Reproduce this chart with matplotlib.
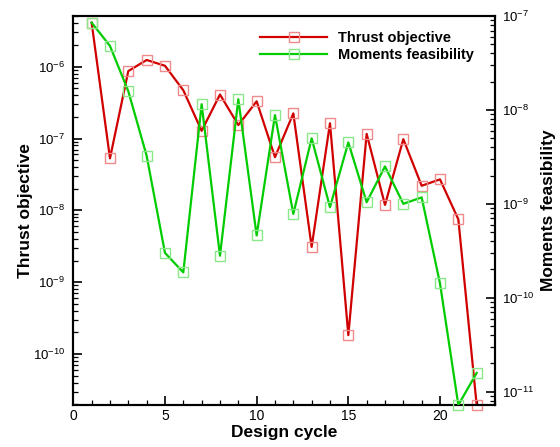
import matplotlib
matplotlib.use("Agg")
import matplotlib.pyplot as plt
from matplotlib.lines import Line2D
from matplotlib.ticker import FixedLocator, MultipleLocator, NullFormatter, LogFormatterSciNotation

plt.rcParams['font.family'] = ['Liberation Sans', 'DejaVu Sans']
plt.rcParams['mathtext.fontset'] = 'custom'
plt.rcParams['mathtext.rm'] = 'Liberation Sans'
plt.rcParams['mathtext.it'] = 'Liberation Sans:italic'
plt.rcParams['mathtext.bf'] = 'Liberation Sans:bold'

cycles = list(range(1, 23))
thrust = [4.1e-6, 5.3e-8, 8.7e-7, 1.24e-6, 1.03e-6, 4.7e-7, 1.28e-7, 4.1e-7,
          1.54e-7, 3.3e-7, 5.5e-8, 2.24e-7, 3.1e-9, 1.63e-7, 1.83e-10, 1.16e-7,
          1.19e-8, 9.8e-8, 2.2e-8, 2.7e-8, 7.5e-9, 1.95e-11]
moments = [8.5e-8, 4.8e-8, 1.58e-8, 3.25e-9, 3.0e-10, 1.86e-10, 1.15e-8, 2.8e-10,
           1.3e-8, 4.6e-10, 8.8e-9, 7.8e-10, 4.98e-9, 9.2e-10, 4.5e-9, 1.04e-9,
           2.5e-9, 1.0e-9, 1.17e-9, 1.42e-10, 7.2e-12, 1.58e-11]
labels = ["Thrust objective", "Moments feasibility"]

red = '#d10000'
red_m = '#f08a8a'
green = '#00cc00'
green_m = '#8ae88a'

fig = plt.figure(figsize=(5.6, 4.47), dpi=100)
ax = fig.add_axes([73.3/560, 1-405/447, (495-73.3)/560, (405-16)/447])
ax2 = ax.twinx()

ax.plot(cycles, thrust, color=red, lw=1.6, zorder=3)
ax.plot(cycles, thrust, ls='none', marker='s', ms=7.5, mfc='none', mec=red_m, mew=1.0, zorder=4, clip_on=False)
ax2.plot(cycles, moments, color=green, lw=1.6, zorder=3)
ax2.plot(cycles, moments, ls='none', marker='s', ms=7.5, mfc='none', mec=green_m, mew=1.0, zorder=4, clip_on=False)

ax.set_xlim(0, 23)
ax.set_yscale('log')
ax.set_ylim(1.95e-11, 5.08e-6)
ax2.set_yscale('log')
ax2.set_ylim(7.2e-12, 1e-7)


def log_ticks(lo, hi):
    major, minor = [], []
    for e in range(-13, -4):
        for m in range(1, 10):
            v = m * 10.0 ** e
            if lo * 0.999 <= v <= hi * 1.001:
                (major if m == 1 else minor).append(v)
    return major, minor


ax.xaxis.set_major_locator(MultipleLocator(5))
ax.xaxis.set_minor_locator(MultipleLocator(1))
for a in (ax, ax2):
    lo, hi = a.get_ylim()
    major, minor = log_ticks(lo, hi)
    a.yaxis.set_major_locator(FixedLocator(major))
    a.yaxis.set_minor_locator(FixedLocator(minor))
    a.yaxis.set_major_formatter(LogFormatterSciNotation())
    a.yaxis.set_minor_formatter(NullFormatter())
    for s in a.spines.values():
        s.set_linewidth(1.5)

ax.tick_params(axis='x', which='major', direction='in', length=6.5, width=1.2, labelsize=10, pad=3, top=False)
ax.tick_params(axis='x', which='minor', direction='in', length=3.5, width=0.9, top=False)
ax.tick_params(axis='y', which='major', direction='in', length=6.5, width=1.2, labelsize=9.5, pad=6, right=False)
ax.tick_params(axis='y', which='minor', direction='in', length=3.5, width=0.9, right=False)
ax2.tick_params(axis='y', which='major', direction='in', length=6.5, width=1.2, labelsize=9.5, pad=5)
ax2.tick_params(axis='y', which='minor', direction='in', length=3.5, width=0.9)

ax.set_xlabel("Design cycle", fontsize=12.5, fontweight='bold', labelpad=1)
ax.set_ylabel("Thrust objective", fontsize=12.5, fontweight='bold', labelpad=0)
ax2.set_ylabel("Moments feasibility", fontsize=12.5, fontweight='bold', labelpad=5)

handles = [Line2D([], [], color=red, lw=1.6, marker='s', ms=7.5, mfc='none', mec=red_m, mew=1.0),
           Line2D([], [], color=green, lw=1.6, marker='s', ms=7.5, mfc='none', mec=green_m, mew=1.0)]
leg = ax2.legend(handles, labels, loc='upper left', bbox_to_anchor=(260/560, 1-31/447),
                 bbox_transform=fig.transFigure, frameon=False, numpoints=1,
                 handlelength=4.6, handletextpad=0.75, labelspacing=0.2, borderpad=0,
                 borderaxespad=0, prop={'weight': 'bold', 'size': 10.5})

fig.savefig("out.png", dpi=100)
